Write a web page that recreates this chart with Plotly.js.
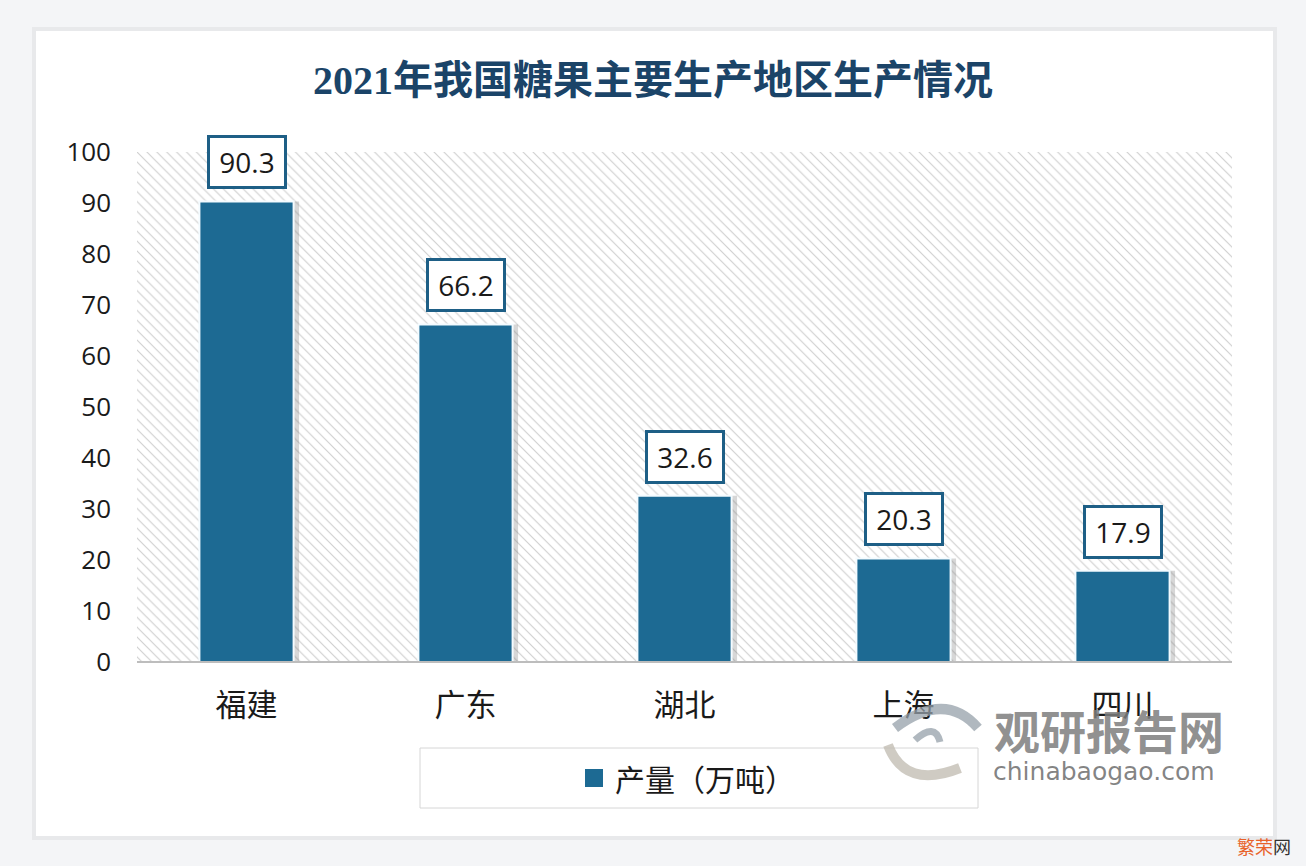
<!DOCTYPE html>
<html>
<head>
<meta charset="utf-8">
<script src="https://cdn.plot.ly/plotly-3.0.1.min.js"></script>
<style>html,body{margin:0;padding:0;background:#f4f5f7;}#chart{width:1306px;height:866px;}</style>
</head>
<body>
<div id="chart"></div>
<script>
var regions = ['福建', '广东', '湖北', '上海', '四川'];
var output = [90.3, 66.2, 32.6, 20.3, 17.9];
var yTicks = [0, 10, 20, 30, 40, 50, 60, 70, 80, 90, 100];
var seriesName = '产量（万吨）';
var titleText = '2021年我国糖果主要生产地区生产情况';

var L = 137, R = 1232, T = 152, B = 662, W = 1306, H = 866;
function px(x) { return (x - L) / (R - L); }
function py(y) { return (B - y) / (B - T); }

var barColor = '#1d6a93';

var bg = {
  type: 'bar', x: [0.5], y: [100], width: [1], xaxis: 'x', yaxis: 'y',
  marker: {color: '#ffffff', line: {width: 0},
    pattern: {shape: '\\', fgcolor: '#cfcfcf', bgcolor: '#ffffff', size: 7, solidity: 0.16}},
  showlegend: false, hoverinfo: 'skip'
};
var shadow = {
  type: 'bar', x: regions, y: output, xaxis: 'x2', yaxis: 'y',
  width: 0.43, offset: -0.215 + 0.025,
  marker: {color: 'rgba(110,110,110,0.28)', line: {width: 0}},
  showlegend: false, hoverinfo: 'skip'
};
var bars = {
  type: 'bar', x: regions, y: output, name: seriesName, xaxis: 'x2', yaxis: 'y',
  width: 0.43, offset: -0.215,
  marker: {color: barColor, line: {color: '#f4fbff', width: 2}},
  showlegend: false, hoverinfo: 'x+y'
};

var annotations = regions.map(function (r, i) {
  return {
    x: r, y: output[i], xref: 'x2', yref: 'y', text: output[i].toFixed(1),
    showarrow: false, xanchor: 'center', yanchor: 'bottom', yshift: 12,
    font: {family: 'Open Sans, Liberation Sans, sans-serif', size: 28, color: '#1a1a1a'},
    bgcolor: '#ffffff', bordercolor: '#1e5f86', borderwidth: 3, borderpad: 5, width: 64
  };
});
annotations.push({
  xref: 'paper', yref: 'paper', x: px(613), y: py(778), xanchor: 'left', yanchor: 'middle',
  text: seriesName, showarrow: false,
  font: {family: 'Noto Sans CJK SC', size: 30, color: '#1a1a1a'}
});
annotations.push({
  xref: 'paper', yref: 'paper', x: px(1109), y: py(729), xanchor: 'center', yanchor: 'middle',
  text: '<b>观研报告网</b>', showarrow: false,
  font: {family: 'Noto Sans CJK SC', size: 46, color: 'rgba(125,125,125,0.85)'}
});
annotations.push({
  xref: 'paper', yref: 'paper', x: px(1104), y: py(771), xanchor: 'center', yanchor: 'middle',
  text: 'chinabaogao.com', showarrow: false,
  font: {family: 'DejaVu Sans, sans-serif', size: 25, color: 'rgba(110,110,110,0.85)'}
});
annotations.push({
  xref: 'paper', yref: 'paper', x: px(1264), y: py(846), xanchor: 'center', yanchor: 'middle',
  text: '<span style="color:#e8622a">繁荣</span>网', showarrow: false,
  font: {family: 'Noto Sans CJK SC', size: 18, color: '#333333'}
});

function P(x, y) { return px(x) + ',' + py(y); }

var layout = {
  width: W, height: H,
  margin: {l: L, r: W - R, t: T, b: H - B, pad: 0},
  paper_bgcolor: '#f4f5f7', plot_bgcolor: 'rgba(0,0,0,0)',
  barmode: 'overlay',
  title: {text: '<b>' + titleText + '</b>', xref: 'paper', x: px(653), xanchor: 'center',
    yref: 'container', y: 1 - 80 / H, yanchor: 'middle',
    font: {family: 'Liberation Serif, Noto Sans CJK SC, serif', size: 40, color: '#1b4468'}},
  xaxis: {range: [0, 1], visible: false, fixedrange: true},
  xaxis2: {overlaying: 'x', type: 'category', side: 'bottom', showgrid: false, zeroline: false,
    showline: false, ticks: '', ticklabelstandoff: 22,
    tickfont: {family: 'Noto Sans CJK SC', size: 31, color: '#1a1a1a'}},
  yaxis: {range: [0, 100], tickvals: yTicks, showgrid: false, zeroline: false, showline: false,
    ticks: '', ticklabelstandoff: 25,
    tickfont: {family: 'Open Sans, Liberation Sans, sans-serif', size: 26, color: '#1a1a1a'}},
  showlegend: false,
  annotations: annotations,
  shapes: [
    {type: 'rect', xref: 'paper', yref: 'paper', layer: 'below',
      x0: px(32), x1: px(1277), y0: py(840), y1: py(27), fillcolor: '#e8e9eb', line: {width: 0}},
    {type: 'rect', xref: 'paper', yref: 'paper', layer: 'below',
      x0: px(36), x1: px(1273), y0: py(836), y1: py(31), fillcolor: '#ffffff', line: {width: 0}},
    {type: 'line', xref: 'paper', yref: 'paper', x0: 0, x1: 1, y0: 0, y1: 0,
      line: {color: '#bdbdbd', width: 2}},
    {type: 'rect', xref: 'paper', yref: 'paper', x0: px(420), x1: px(978), y0: py(808), y1: py(748),
      line: {color: '#d6d6d6', width: 1}, fillcolor: 'rgba(0,0,0,0)'},
    {type: 'rect', xref: 'paper', yref: 'paper', x0: px(585), x1: px(603), y0: py(787), y1: py(769),
      line: {width: 0}, fillcolor: barColor},
    {type: 'path', xref: 'paper', yref: 'paper',
      path: 'M' + P(978, 728) + ' Q' + P(945, 690) + ' ' + P(895, 728),
      line: {color: 'rgba(150,160,170,0.75)', width: 10}},
    {type: 'path', xref: 'paper', yref: 'paper',
      path: 'M' + P(888, 745) + ' Q' + P(905, 790) + ' ' + P(960, 768),
      line: {color: 'rgba(195,190,180,0.8)', width: 10}},
    {type: 'path', xref: 'paper', yref: 'paper',
      path: 'M' + P(940, 742) + ' Q' + P(935, 722) + ' ' + P(915, 740),
      line: {color: 'rgba(150,160,170,0.75)', width: 7}}
  ]
};

Plotly.newPlot('chart', [bg, shadow, bars], layout, {displayModeBar: false, staticPlot: true});
</script>
</body>
</html>
